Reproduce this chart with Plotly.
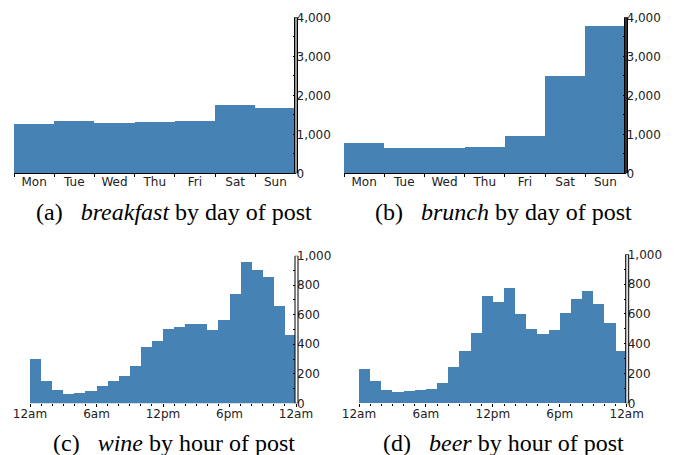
import plotly.graph_objects as go

days = ["Mon", "Tue", "Wed", "Thu", "Fri", "Sat", "Sun"]
breakfast = [1265, 1342, 1291, 1316, 1342, 1752, 1675]
brunch = [778, 650, 650, 675, 957, 2496, 3778]

hours = list(range(24))
wine = [300, 151, 90, 63, 70, 84, 117, 151, 185, 253, 381, 422,
        503, 517, 537, 537, 497, 564, 740, 957, 903, 856, 659, 463]
beer = [230, 150, 89, 76, 83, 89, 96, 136, 244, 351, 472, 720,
        680, 774, 600, 499, 465, 492, 606, 700, 754, 667, 539, 351]

hour_tickvals = [0, 6, 12, 18, 24]
hour_ticktext = ["12am", "6am", "12pm", "6pm", "12am"]

captions = [("(a)", "breakfast", "by day of post"),
            ("(b)", "brunch", "by day of post"),
            ("(c)", "wine", "by hour of post"),
            ("(d)", "beer", "by hour of post")]

BAR = "#4682B4"
OFF = 8  # page body margin
W, H = 681 - OFF, 455 - OFF

fig = go.Figure()

# pixel-based positions (page coordinates)
panels = [
    dict(x0=14, x1=295.5, ytop=17.3, ybot=173.3),
    dict(x0=344, x1=625.5, ytop=17.3, ybot=173.3),
    dict(x0=30, x1=296, ytop=255.7, ybot=403.3),
    dict(x0=359, x1=626.7, ytop=254.3, ybot=403.3),
]

def px(x):
    return (x - OFF) / W

def py(y):
    return 1 - (y - OFF) / H

tickfont = dict(family="DejaVu Sans", size=12, color="#222")

for i, p in enumerate(panels):
    n = "" if i == 0 else str(i + 1)
    xa = "xaxis" + n
    ya = "yaxis" + n
    xref = "x" + n
    yref = "y" + n
    dom_x = [px(p["x0"]), px(p["x1"])]
    dom_y = [py(p["ybot"]), py(p["ytop"])]
    if i < 2:
        vals = breakfast if i == 0 else brunch
        fig.add_trace(go.Bar(x=days, y=vals, marker=dict(color=BAR, line=dict(width=0)),
                             xaxis=xref, yaxis=yref, showlegend=False))
        fig.update_layout(**{
            xa: dict(domain=dom_x, anchor=yref, type="category", range=[-0.5, 6.5],
                     tickson="boundaries", ticks="outside", ticklen=3, tickcolor="#000",
                     showline=True, linecolor="#000", linewidth=1, showgrid=False,
                     tickfont=tickfont, zeroline=False, automargin=False,
                     ticklabelstandoff=-3),
            ya: dict(domain=dom_y, anchor=xref, side="right", range=[0, 4000],
                     tickvals=[0, 1000, 2000, 3000, 4000], tickformat=",",
                     ticks="inside", ticklen=3, tickcolor="#000",
                     minor=dict(tickvals=[500, 1500, 2500, 3500], ticks="inside", ticklen=3, tickcolor="#000"),
                     showgrid=False, zeroline=False, showline=False, tickfont=tickfont,
                     automargin=False),
        })
        ymax = 4000
    else:
        vals = wine if i == 2 else beer
        fig.add_trace(go.Bar(x=[h + 0.5 for h in hours], y=vals, width=1,
                             marker=dict(color=BAR, line=dict(width=0)),
                             xaxis=xref, yaxis=yref, showlegend=False))
        fig.update_layout(**{
            xa: dict(domain=dom_x, anchor=yref, range=[0, 24],
                     tickvals=hour_tickvals, ticktext=hour_ticktext,
                     ticks="outside", ticklen=3, tickcolor="#000",
                     minor=dict(dtick=1, tick0=0, ticks="outside", ticklen=2, tickcolor="#000"),
                     showline=False, showgrid=False,
                     tickfont=tickfont, zeroline=False, automargin=False,
                     ticklabelstandoff=-4),
            ya: dict(domain=dom_y, anchor=xref, side="right", range=[0, 1000],
                     tickvals=[0, 200, 400, 600, 800, 1000], tickformat=",",
                     ticks="inside", ticklen=3, tickcolor="#000",
                     minor=dict(dtick=100, ticks="inside", ticklen=3, tickcolor="#000"),
                     showgrid=False, zeroline=False, showline=False, tickfont=tickfont,
                     automargin=False),
        })
        ymax = 1000
    fill = ["#999", "#333", "#fff", "#ddd"][i]
    fig.add_shape(type="rect", xref=xref + " domain", yref=yref,
                  xsizemode="pixel", xanchor=1, x0=-1, x1=2, y0=0, y1=ymax,
                  line=dict(color="#000", width=1), fillcolor=fill, layer="above")
    lab, it, rest = captions[i]
    cx = [174, 503, 174, 503][i]
    cy = [212, 212, 443, 443][i]
    fig.add_annotation(text=f"{lab}&nbsp;&nbsp;&nbsp;<i>{it}</i> {rest}", xref="paper", yref="paper",
                       x=px(cx), y=py(cy), xanchor="center", yanchor="middle",
                       showarrow=False, font=dict(family="Liberation Serif", size=24, color="#000"))

fig.update_layout(width=W, height=H, margin=dict(l=0, r=0, t=0, b=0, autoexpand=False),
                  paper_bgcolor="white", plot_bgcolor="white", bargap=0)

fig.write_html("out.html")
